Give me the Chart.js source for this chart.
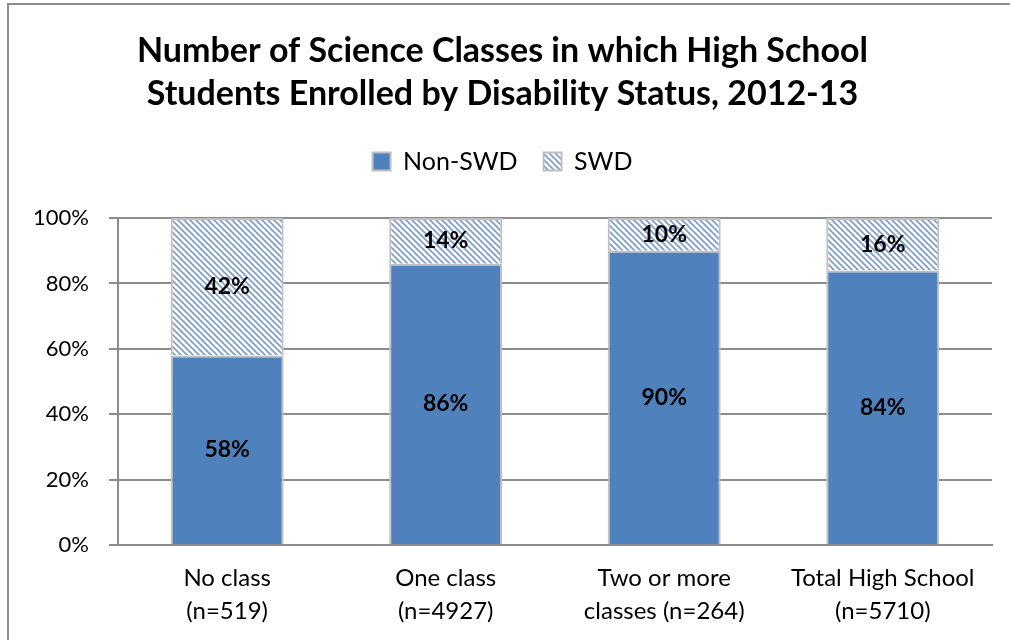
<!DOCTYPE html>
<html>
<head>
<meta charset="utf-8">
<script src="https://cdn.jsdelivr.net/npm/chart.js@4"></script>
<style>
  body { margin: 0; background: #fff; }
  #wrap { width: 1010px; height: 640px; }
</style>
</head>
<body>
<div id="wrap"><canvas id="scienceChart"></canvas></div>
<script>
const categories = [
  ['No class', '(n=519)'],
  ['One class', '(n=4927)'],
  ['Two or more', 'classes (n=264)'],
  ['Total High School', '(n=5710)'],
];
const nonSwd = [58, 86, 90, 84];
const swd = [42, 14, 10, 16];
const yTicks = [0, 20, 40, 60, 80, 100];

const FONT = 'Lato, "Open Sans", sans-serif';

// diagonal hatch for the SWD segments
const makeHatch = () => {
  const c = document.createElement('canvas');
  c.width = 6; c.height = 6;
  const g = c.getContext('2d');
  g.fillStyle = '#fff';
  g.fillRect(0, 0, 6, 6);
  g.strokeStyle = '#7a9fd0';
  g.lineWidth = 1.7;
  g.beginPath();
  g.moveTo(-1, -1); g.lineTo(7, 7);
  g.moveTo(-4, 2); g.lineTo(4, 10);
  g.moveTo(2, -4); g.lineTo(10, 4);
  g.stroke();
  return g.createPattern(c, 'repeat');
};
const hatch = makeHatch();

const frame = {
  id: 'frame',
  afterDraw(chart) {
    const ctx = chart.ctx;
    ctx.save();
    ctx.strokeStyle = '#8c8c8c';
    ctx.lineWidth = 2;
    ctx.strokeRect(8, 4, 1010, 640);
    ctx.restore();
  },
};

// extra room between legend and plot
const legendGap = {
  id: 'legendGap',
  beforeInit(chart) {
    const fit = chart.legend.fit;
    chart.legend.fit = function () {
      fit.call(this);
      this.height += 34;
    };
  },
};

const valueLabels = {
  id: 'valueLabels',
  afterDatasetsDraw(chart) {
    const ctx = chart.ctx;
    ctx.save();
    ctx.font = 'bold 23px ' + FONT;
    ctx.fillStyle = '#000';
    ctx.textAlign = 'center';
    ctx.textBaseline = 'middle';
    chart.data.datasets.forEach((ds, i) => {
      chart.getDatasetMeta(i).data.forEach((bar, j) => {
        const mid = (bar.y + bar.base) / 2;
        ctx.fillText(ds.data[j] + '%', bar.x, mid);
      });
    });
    ctx.restore();
  },
};

const ctx = document.getElementById('scienceChart').getContext('2d');
const chart = new Chart(ctx, {
  type: 'bar',
  data: {
    labels: categories,
    datasets: [
      {
        label: 'Non-SWD',
        data: nonSwd,
        backgroundColor: '#4f81bd',
        borderColor: '#c0c0c0',
        borderWidth: 2,
      },
      {
        label: 'SWD',
        data: swd,
        backgroundColor: hatch,
        borderColor: '#c0c0c0',
        borderWidth: 2,
      },
    ],
  },
  options: {
    responsive: true,
    maintainAspectRatio: false,
    animation: false,
    layout: {
      padding: { left: 13, right: 18, top: 0, bottom: -4 },
    },
    datasets: {
      bar: { barPercentage: 0.517, categoryPercentage: 1 },
    },
    scales: {
      x: {
        stacked: true,
        grid: { display: false, drawTicks: false },
        border: { color: '#8c8c8c', width: 2 },
        ticks: {
          color: '#000',
          font: { family: FONT, size: 24, lineHeight: 1.35 },
          padding: 17,
          maxRotation: 0,
        },
      },
      y: {
        stacked: true,
        min: 0,
        max: 100,
        afterBuildTicks: (axis) => {
          axis.ticks = yTicks.map(v => ({ value: v }));
        },
        grid: {
          color: '#8c8c8c',
          lineWidth: 2,
          tickLength: 9,
        },
        border: { color: '#8c8c8c', width: 2 },
        ticks: {
          color: '#000',
          font: { family: FONT, size: 22 },
          padding: 20,
          callback: (v) => v + '%',
        },
      },
    },
    plugins: {
      title: {
        display: true,
        text: [
          'Number of Science Classes in which High School',
          'Students Enrolled by Disability Status, 2012-13',
        ],
        color: '#000',
        font: { family: FONT, size: 34, weight: 'bold', lineHeight: 1.28 },
        padding: { top: 29, bottom: 7 },
      },
      legend: {
        position: 'top',
        labels: {
          color: '#000',
          font: { family: FONT, size: 25 },
          boxWidth: 18,
          boxHeight: 18,
          padding: 26,
        },
      },
      tooltip: { enabled: false },
    },
  },
  plugins: [valueLabels, frame, legendGap],
});
</script>
</body>
</html>
